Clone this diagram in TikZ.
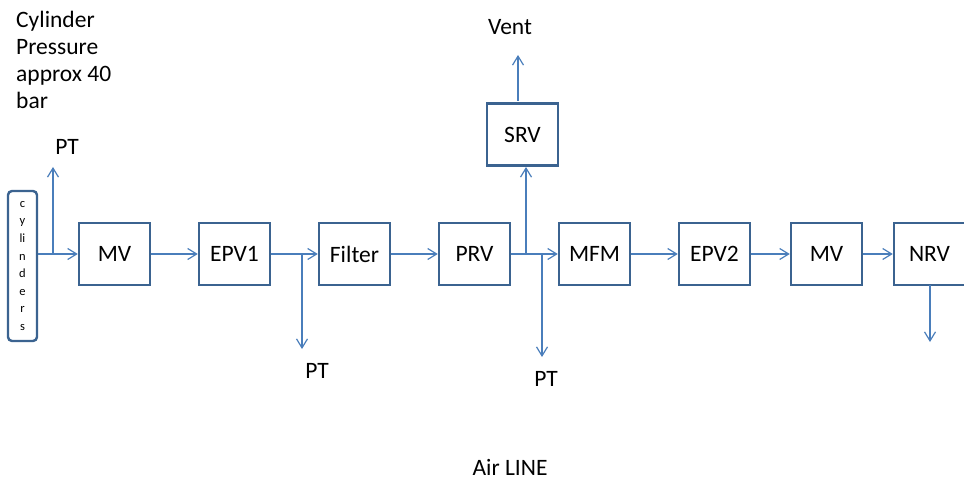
\documentclass[tikz,border=0pt]{standalone}
\usepackage{fontspec}
\setmainfont{Carlito}
\usetikzlibrary{arrows.meta}
\definecolor{boxline}{HTML}{3B6390}
\definecolor{flow}{HTML}{4A7EBB}
\begin{document}
\begin{tikzpicture}[x=1pt,y=-1pt,
  blk/.style={draw=boxline,line width=2.4pt,minimum width=71pt,minimum height=62pt,inner sep=0pt,font=\fontsize{23.5}{27}\selectfont},
  cyl/.style={draw=boxline,line width=2.4pt,rounded corners=4pt,minimum width=29pt,minimum height=150pt,inner sep=0pt,align=center,font=\fontsize{12.5}{17.6}\selectfont},
  lbl/.style={font=\fontsize{23.5}{27}\selectfont,inner sep=0pt},
  flw/.style={draw=flow,line width=1.2pt},
  arr/.style={flw,-{Straight Barb[length=9pt,width=11pt,line width=1.2pt]}}]
\useasboundingbox (0,0) rectangle (964,481);
\node[cyl] (cyl) at (22.5,266) {c\\y\\li\\n\\d\\e\\r\\s};
\node[blk] (mv1) at (114.5,254) {MV};
\node[blk] (epv1) at (234.5,254) {EPV1};
\node[blk] (filter) at (354.5,254) {Filter};
\node[blk] (prv) at (474.5,254) {PRV};
\node[blk] (mfm) at (594.5,254) {MFM};
\node[blk] (epv2) at (714.5,254) {EPV2};
\node[blk] (mv2) at (826.5,254) {MV};
\node[blk] (nrv) at (929.5,254) {NRV};
\node[blk] (srv) at (522.5,134.5) {SRV};
\node[lbl,align=left,anchor=north west] (cp) at (16,11) {Cylinder\\Pressure\\approx 40\\bar};
\node[lbl] (pt1) at (67,147) {PT};
\node[lbl] (pt2) at (317,371) {PT};
\node[lbl] (pt3) at (546,379) {PT};
\node[lbl] (vent) at (510,27) {Vent};
\node[lbl] (air) at (510,467) {Air LINE};
\coordinate (j1) at (53,254);
\coordinate (t1) at (53,167);
\coordinate (j2) at (302,254);
\coordinate (t2) at (302,349);
\coordinate (j3) at (526,254);
\coordinate (t3) at (526,167);
\coordinate (j4) at (542,254);
\coordinate (t4) at (542,357);
\coordinate (v0) at (518,101);
\coordinate (v1) at (518,55);
\coordinate (n0) at (930,285);
\coordinate (n1) at (930,342);
\draw[arr] (cyl.east |- mv1.west) -- (mv1.west);
\draw[arr] (j1) -- (t1);
\draw[arr] (mv1) -- (epv1);
\draw[arr] (epv1) -- (filter);
\draw[arr] (j2) -- (t2);
\draw[arr] (filter) -- (prv);
\draw[arr] (prv) -- (mfm);
\draw[arr] (j3) -- (t3);
\draw[arr] (j4) -- (t4);
\draw[arr] (v0) -- (v1);
\draw[arr] (mfm) -- (epv2);
\draw[arr] (epv2) -- (mv2);
\draw[arr] (mv2) -- (nrv);
\draw[arr] (n0) -- (n1);
\end{tikzpicture}
\end{document}
